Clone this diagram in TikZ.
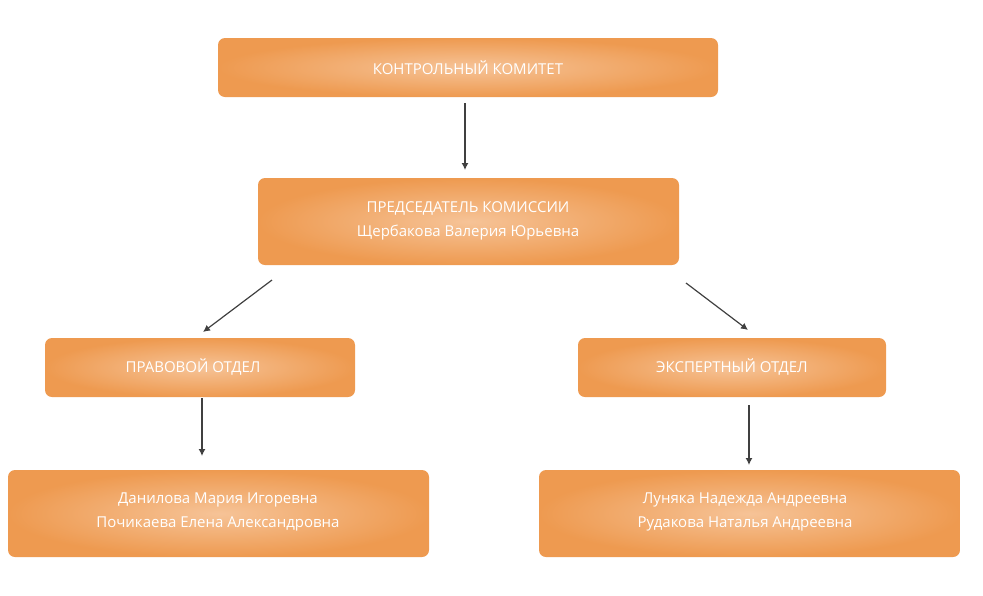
\documentclass[tikz,border=0pt]{standalone}
\usepackage{fontspec}
\setmainfont{Open Sans}
\definecolor{boxo}{HTML}{EE9A50}
\definecolor{boxi}{HTML}{F6C397}
\definecolor{arr}{HTML}{404040}
\begin{document}
\begin{tikzpicture}[x=1pt,y=-1pt,
  box/.style={rounded corners=7pt,inner color=boxi,outer color=boxo,draw=none},
  lbl/.style={text=white,font=\fontsize{15}{24}\selectfont,align=center},
  con/.style={draw=arr,line width=1.2pt,-{Latex[length=7pt,width=7pt]}}]
\useasboundingbox (0,0) rectangle (983,595);
\usetikzlibrary{arrows.meta}
\shade[box] (218,38) rectangle (718,97);
\node[lbl] (n1) at (468,68) {КОНТРОЛЬНЫЙ КОМИТЕТ};
\shade[box] (258,178) rectangle (679,265);
\node[lbl] (n2) at (468,221) {ПРЕДСЕДАТЕЛЬ КОМИССИИ\\Щербакова Валерия Юрьевна};
\shade[box] (45,338) rectangle (355,397);
\node[lbl] (n3) at (193,367) {ПРАВОВОЙ ОТДЕЛ};
\shade[box] (578,338) rectangle (886,397);
\node[lbl] (n4) at (732,367) {ЭКСПЕРТНЫЙ ОТДЕЛ};
\shade[box] (8,470) rectangle (429,557);
\node[lbl] (n5) at (218,512) {Данилова Мария Игоревна\\Почикаева Елена Александровна};
\shade[box] (539,470) rectangle (960,557);
\node[lbl] (n6) at (745,512) {Луняка Надежда Андреевна\\Рудакова Наталья Андреевна};
\coordinate (a1) at (465,103); \coordinate (b1) at (465,170);
\coordinate (a2) at (272,280); \coordinate (b2) at (203,332);
\coordinate (a3) at (686,283); \coordinate (b3) at (748,330);
\coordinate (a4) at (202,398); \coordinate (b4) at (202,456);
\coordinate (a5) at (749,405); \coordinate (b5) at (749,465);
\foreach \i in {1,...,5} \draw[con] (a\i) -- (b\i);
\end{tikzpicture}
\end{document}
